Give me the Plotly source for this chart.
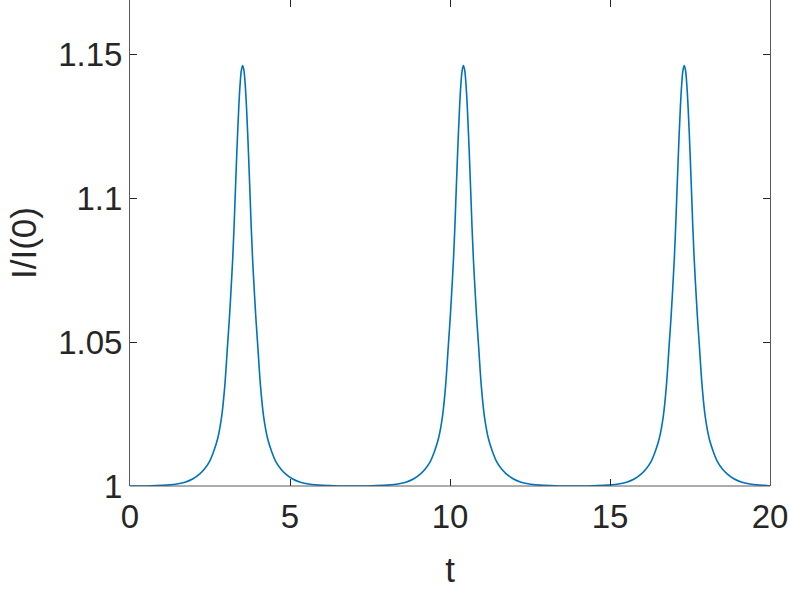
import plotly.graph_objects as go

# Values (t, I/I(0)) - three identical pulses
t_values = [
    0.00,
    0.52, 1.02, 1.42, 1.72, 1.97, 2.18, 2.32, 2.47, 2.614, 2.74, 2.864, 2.96, 3.045, 3.11, 3.162, 3.21, 3.25, 3.286, 3.32, 3.36, 3.40, 3.44, 3.48,
    3.52,
    3.56, 3.60, 3.64, 3.68, 3.72, 3.754, 3.79, 3.83, 3.878, 3.93, 3.995, 4.08, 4.176, 4.30, 4.426, 4.57, 4.72, 4.86, 5.07, 5.32, 5.62, 6.02, 6.52,
    6.97,
    7.42, 7.92, 8.32, 8.62, 8.87, 9.08, 9.22, 9.37, 9.514, 9.64, 9.764, 9.86, 9.945, 10.01, 10.062, 10.11, 10.15, 10.186, 10.22, 10.26, 10.30, 10.34, 10.38,
    10.42,
    10.46, 10.50, 10.54, 10.58, 10.62, 10.654, 10.69, 10.73, 10.778, 10.83, 10.895, 10.98, 11.076, 11.20, 11.326, 11.47, 11.62, 11.76, 11.97, 12.22, 12.52, 12.92, 13.42,
    13.87,
    14.32, 14.82, 15.22, 15.52, 15.77, 15.98, 16.12, 16.27, 16.414, 16.54, 16.664, 16.76, 16.845, 16.91, 16.962, 17.01, 17.05, 17.086, 17.12, 17.16, 17.20, 17.24, 17.28,
    17.32,
    17.36, 17.40, 17.44, 17.48, 17.52, 17.554, 17.59, 17.63, 17.678, 17.73, 17.795, 17.88, 17.976, 18.10, 18.226, 18.37, 18.52, 18.66, 18.87, 19.12, 19.42, 19.82, 20.00,
]

i_values = [
    1.0000,
    1.0000, 1.0002, 1.0006, 1.0013, 1.0025, 1.0042, 1.0058, 1.0082, 1.0120, 1.0165, 1.0241, 1.0345, 1.0483, 1.0590, 1.0690, 1.0790, 1.0894, 1.1003, 1.1104, 1.1218, 1.1317, 1.1394, 1.1443,
    1.1460,
    1.1443, 1.1394, 1.1317, 1.1218, 1.1104, 1.1003, 1.0894, 1.0790, 1.0690, 1.0590, 1.0483, 1.0345, 1.0241, 1.0165, 1.0120, 1.0082, 1.0058, 1.0042, 1.0025, 1.0013, 1.0006, 1.0002, 1.0000,
    1.0000,
    1.0000, 1.0002, 1.0006, 1.0013, 1.0025, 1.0042, 1.0058, 1.0082, 1.0120, 1.0165, 1.0241, 1.0345, 1.0483, 1.0590, 1.0690, 1.0790, 1.0894, 1.1003, 1.1104, 1.1218, 1.1317, 1.1394, 1.1443,
    1.1460,
    1.1443, 1.1394, 1.1317, 1.1218, 1.1104, 1.1003, 1.0894, 1.0790, 1.0690, 1.0590, 1.0483, 1.0345, 1.0241, 1.0165, 1.0120, 1.0082, 1.0058, 1.0042, 1.0025, 1.0013, 1.0006, 1.0002, 1.0000,
    1.0000,
    1.0000, 1.0002, 1.0006, 1.0013, 1.0025, 1.0042, 1.0058, 1.0082, 1.0120, 1.0165, 1.0241, 1.0345, 1.0483, 1.0590, 1.0690, 1.0790, 1.0894, 1.1003, 1.1104, 1.1218, 1.1317, 1.1394, 1.1443,
    1.1460,
    1.1443, 1.1394, 1.1317, 1.1218, 1.1104, 1.1003, 1.0894, 1.0790, 1.0690, 1.0590, 1.0483, 1.0345, 1.0241, 1.0165, 1.0120, 1.0082, 1.0058, 1.0042, 1.0025, 1.0013, 1.0006, 1.0002, 1.0001,
]

x_ticks = [0, 5, 10, 15, 20]
x_tick_labels = ["0", "5", "10", "15", "20"]
y_ticks = [1.0, 1.05, 1.1, 1.15]
y_tick_labels = ["1", "1.05", "1.1", "1.15"]

x_title = "t"
y_title = "I/I(0)"

FONT = "Liberation Sans, Arial, Helvetica, sans-serif"
TXT = "#262626"
AXLINE = "#5a5a5a"

fig = go.Figure()
fig.add_trace(go.Scatter(
    x=t_values, y=i_values, mode="lines",
    line=dict(color="#0072BD", width=1.6, shape="spline", smoothing=1.0),
    showlegend=False, hoverinfo="skip",
))

fig.update_layout(
    width=789, height=590,
    margin=dict(l=130, r=19, t=0, b=104),
    paper_bgcolor="white", plot_bgcolor="white",
    font=dict(family=FONT, color=TXT, size=33),
    xaxis=dict(
        range=[0, 20], tickmode="array", tickvals=x_ticks, ticktext=x_tick_labels,
        ticks="inside", ticklen=7, tickwidth=1, tickcolor=TXT,
        showline=False, mirror="ticks", showgrid=False, zeroline=False,
        tickfont=dict(family=FONT, size=33, color=TXT),
        ticklabelstandoff=8,
        title=dict(text=x_title, font=dict(family=FONT, size=35, color=TXT), standoff=23),
    ),
    yaxis=dict(
        range=[1, 1.16875], tickmode="array", tickvals=y_ticks, ticktext=y_tick_labels,
        ticks="inside", ticklen=7, tickwidth=1, tickcolor=TXT,
        showline=True, linecolor=AXLINE, linewidth=1, mirror="ticks",
        showgrid=False, zeroline=False,
        tickfont=dict(family=FONT, size=33, color=TXT),
        ticklabelstandoff=0,
        title=dict(text=y_title, font=dict(family=FONT, size=35, color=TXT), standoff=10),
    ),
    shapes=[
        dict(type="line", xref="paper", yref="paper", x0=0, x1=1, y0=0, y1=0,
             line=dict(color=AXLINE, width=1), layer="above"),
    ],
)

fig.write_html(
    "out.html",
    config={"displayModeBar": False, "staticPlot": True},
    post_script="document.body.style.margin='0';document.body.style.overflow='hidden';",
)
